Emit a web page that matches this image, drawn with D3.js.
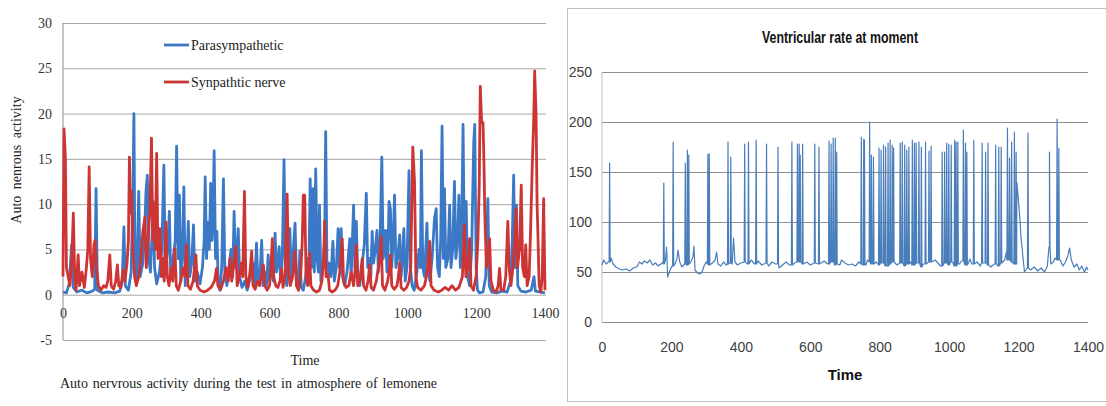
<!DOCTYPE html>
<html>
<head>
<meta charset="utf-8">
<script src="https://cdn.jsdelivr.net/npm/d3@7"></script>
<style>
  body { margin: 0; background: #fff; }
  svg { display: block; }
</style>
</head>
<body>
<div id="chart"></div>
<script>
// ticks
var timeTicks = [0, 200, 400, 600, 800, 1000, 1200, 1400];
var nervTicks = [-5, 0, 5, 10, 15, 20, 25, 30];
var rateTicks = [0, 50, 100, 150, 200, 250];

// left chart, [time, value]
var parasympathetic = [
  [0,0.3],[10,0.2],[18,1.2],[25,5.5],[30,0.8],[40,0.3],[55,0.5],[70,0.2],[85,0.4],[92,0.6],[96,11.7],[100,0.5],
  [115,0.2],[130,0.3],[150,0.2],[165,0.4],[172,1.5],[177,7.5],[181,1.0],[190,0.5],[198,2.5],[203,11.0],[206,20.0],
  [209,3.0],[214,1.5],[220,11.4],[224,2.0],[232,3.5],[238,8.0],[241,11.4],[245,13.2],[249,4.0],[254,2.5],[258,6.0],
  [262,10.3],[266,3.0],[272,1.2],[280,2.5],[287,5.0],[293,14.3],[297,3.0],[303,4.5],[309,9.2],[313,2.0],[320,4.0],
  [326,6.0],[330,16.4],[334,4.0],[338,11.0],[342,1.5],[347,5.0],[351,11.9],[355,1.0],[360,4.0],[364,8.1],[368,2.0],
  [374,3.5],[379,7.7],[383,1.5],[390,2.5],[398,1.2],[405,3.0],[410,6.0],[413,13.0],[417,4.0],[421,8.0],[425,5.0],
  [429,12.3],[433,6.0],[436,9.0],[439,15.9],[443,4.0],[447,7.0],[451,1.0],[456,0.5],[461,3.0],[466,12.8],[470,2.5],
  [476,1.0],[482,3.0],[488,5.0],[493,2.0],[497,9.2],[501,3.0],[505,4.5],[509,7.3],[513,2.0],[520,0.8],[528,1.5],
  [535,0.5],[545,2.0],[552,3.5],[557,1.0],[562,5.7],[566,1.5],[572,2.0],[577,6.0],[581,1.0],[587,2.5],[591,1.0],
  [596,4.4],[600,1.5],[606,3.0],[611,1.5],[616,6.8],[620,2.5],[624,3.5],[628,5.3],[632,1.5],[637,4.0],[642,14.9],
  [646,3.0],[650,1.0],[655,3.5],[659,7.3],[663,1.5],[668,4.5],[674,7.9],[678,2.0],[684,1.0],[688,4.8],[692,0.8],
  [698,0.5],[705,2.0],[710,4.0],[714,2.0],[718,12.8],[722,3.0],[726,11.7],[730,2.5],[734,13.9],[738,4.0],[742,2.5],
  [745,9.9],[749,1.5],[755,3.0],[760,6.0],[763,18.0],[767,2.0],[772,3.5],[778,2.0],[784,5.9],[788,1.5],[794,3.0],
  [799,7.3],[803,3.0],[808,7.3],[812,2.0],[818,1.0],[825,2.5],[833,6.2],[837,2.0],[844,9.9],[848,3.0],[852,8.1],
  [856,2.0],[862,1.0],[868,3.0],[875,5.5],[881,11.2],[885,3.0],[890,4.0],[894,2.0],[898,7.0],[902,3.5],[907,5.0],
  [912,7.1],[916,2.5],[920,4.0],[926,15.2],[930,4.0],[934,5.0],[937,7.1],[941,2.5],[944,5.0],[947,10.3],[951,9.5],
  [955,3.0],[959,6.0],[963,11.0],[967,3.0],[972,4.0],[978,6.6],[982,2.0],[986,4.0],[990,7.3],[994,1.5],[999,3.0],
  [1005,13.7],[1009,3.0],[1014,1.0],[1020,0.5],[1028,2.5],[1034,5.0],[1038,3.0],[1041,15.9],[1045,3.0],[1050,2.0],
  [1057,7.9],[1061,2.5],[1066,1.5],[1072,4.0],[1079,8.4],[1084,9.5],[1088,3.0],[1093,2.0],[1097,6.0],[1101,18.6],
  [1105,4.0],[1108,11.7],[1112,3.0],[1118,4.0],[1123,9.9],[1127,3.0],[1132,5.0],[1137,12.5],[1141,4.0],[1146,6.0],
  [1150,11.0],[1154,3.0],[1158,7.0],[1162,18.8],[1166,4.0],[1171,10.3],[1175,2.0],[1181,1.0],[1187,5.0],[1193,16.8],
  [1196,18.8],[1200,3.0],[1204,0.5],[1210,0.2],[1220,0.3],[1228,2.0],[1234,10.6],[1238,1.0],[1245,0.3],[1260,0.2],
  [1275,0.4],[1290,0.3],[1300,1.5],[1305,6.0],[1309,13.2],[1313,3.0],[1317,9.9],[1321,1.0],[1330,0.4],[1345,0.3],
  [1360,0.5],[1368,2.0],[1372,0.4],[1385,0.3],[1400,0.2]
];
var synpathtic = [
  [0,2.0],[3,18.3],[7,15.0],[10,3.0],[15,2.0],[20,1.0],[25,3.5],[30,9.0],[34,2.0],[38,0.5],[44,4.4],[48,1.0],
  [55,2.5],[62,0.8],[68,3.0],[72,5.0],[76,14.1],[80,4.0],[85,2.0],[90,5.5],[93,6.0],[97,3.0],[103,1.0],[110,0.5],
  [118,1.0],[125,0.8],[130,1.5],[136,4.4],[140,1.0],[147,0.6],[153,1.5],[158,3.3],[162,1.0],[168,0.8],[175,2.7],
  [180,1.5],[186,3.5],[190,6.0],[193,15.2],[196,9.0],[199,11.4],[203,5.0],[208,2.0],[213,1.0],[220,2.0],[226,4.0],
  [232,7.0],[238,8.6],[242,3.0],[247,6.0],[252,9.0],[257,17.3],[261,6.0],[265,10.0],[268,5.0],[272,15.6],[276,4.0],
  [282,7.3],[286,2.0],[290,4.0],[294,1.5],[299,8.0],[303,2.0],[308,1.0],[314,3.0],[319,1.5],[325,5.1],[329,1.0],
  [335,0.5],[342,1.5],[348,3.0],[354,2.0],[359,5.5],[363,1.0],[370,0.6],[378,1.5],[386,4.4],[390,1.0],[398,0.5],
  [410,0.3],[420,0.5],[430,0.8],[440,1.5],[446,2.9],[450,1.0],[458,0.6],[466,1.5],[474,3.0],[480,1.5],[485,4.0],
  [490,1.5],[496,3.5],[502,5.3],[506,1.0],[512,2.0],[518,3.5],[522,2.0],[527,11.4],[531,2.0],[537,0.8],[543,2.5],
  [548,4.8],[552,1.0],[558,0.6],[565,1.5],[571,1.0],[576,2.0],[582,3.3],[586,1.0],[593,0.5],[600,1.0],[604,3.0],
  [608,6.2],[612,2.0],[618,1.0],[624,0.8],[630,1.5],[635,2.9],[639,0.8],[645,2.0],[651,11.1],[655,2.5],[660,1.0],
  [667,2.0],[674,4.8],[678,1.0],[684,0.5],[690,2.0],[695,6.0],[698,11.0],[702,11.0],[706,2.0],[711,1.0],[716,4.6],
  [720,1.0],[728,0.5],[736,0.3],[745,0.5],[752,1.5],[757,4.0],[760,8.1],[764,2.0],[770,2.2],[774,0.5],[782,0.3],
  [790,0.5],[798,1.0],[804,2.5],[811,6.2],[815,1.5],[822,0.8],[830,1.0],[837,2.5],[844,1.0],[848,2.5],[852,5.5],
  [856,1.0],[862,1.5],[869,4.0],[873,1.0],[880,0.5],[886,1.5],[891,3.3],[895,0.8],[902,0.5],[910,1.5],[916,3.0],
  [920,4.0],[924,6.4],[928,1.0],[935,0.5],[943,1.5],[947,2.5],[951,4.4],[955,1.0],[962,0.6],[970,1.0],[974,2.0],
  [978,3.5],[982,0.8],[990,0.5],[998,0.8],[1005,1.5],[1010,3.0],[1016,16.3],[1019,14.0],[1021,12.5],[1025,2.0],
  [1030,0.8],[1040,0.5],[1050,1.0],[1058,2.5],[1065,5.9],[1069,1.0],[1078,0.5],[1090,0.3],[1100,0.5],[1110,0.8],
  [1120,0.5],[1130,1.0],[1140,0.5],[1150,0.8],[1160,2.0],[1166,7.7],[1170,2.0],[1176,3.0],[1181,6.2],[1185,1.0],
  [1192,0.5],[1200,2.0],[1205,6.0],[1209,12.0],[1212,23.0],[1216,19.0],[1220,19.0],[1223,14.0],[1225,9.2],[1230,3.0],
  [1235,4.0],[1239,6.2],[1243,1.5],[1250,0.5],[1258,0.3],[1264,1.0],[1268,2.9],[1272,0.5],[1280,0.5],[1286,2.0],
  [1292,8.1],[1296,3.0],[1301,1.0],[1307,3.0],[1312,6.0],[1316,9.5],[1320,3.0],[1326,5.0],[1331,12.1],[1335,3.0],
  [1340,2.0],[1344,5.5],[1348,1.0],[1354,2.0],[1358,7.0],[1363,14.3],[1367,19.0],[1370,24.7],[1374,20.0],[1377,10.0],
  [1379,7.3],[1383,1.0],[1388,0.3],[1392,2.0],[1396,10.6],[1400,0.5]
];

// right chart : base rate [time, bpm] and spikes [time, base, peak]
var rateBase = [
  [0,57],[5,62],[12,58],[18,60],[26,64],[32,58],[40,55],[50,53],[60,52],[70,53],[80,51],[90,54],[100,55],[108,60],
  [115,58],[122,61],[130,59],[138,62],[146,57],[154,59],[162,56],[170,58],[176,60],[183,62],[186,75],[189,45],
  [194,50],[200,55],[210,58],[216,63],[219,72],[224,60],[230,55],[238,58],[256,60],[262,65],[265,76],[268,52],
  [275,49],[282,48],[288,50],[294,56],[300,60],[318,59],[326,62],[330,70],[334,58],[342,56],[350,60],[358,57],
  [375,58],[379,84],[383,60],[390,57],[400,59],[430,62],[440,58],[450,61],[460,57],[480,56],[490,60],[500,58],
  [510,54],[520,57],[530,60],[540,57],[555,59],[590,60],[600,57],[640,61],[650,58],[685,57],[690,62],[700,59],
  [710,57],[720,58],[730,56],[740,60],[760,57],[765,62],[790,60],[820,56],[850,57],[890,60],[925,58],[930,58],
  [960,62],[970,58],[975,56],[1010,60],[1030,58],[1035,61],[1060,63],[1065,58],[1080,60],[1090,56],[1100,59],
  [1120,55],[1130,58],[1140,56],[1160,62],[1165,70],[1190,58],[1195,140],[1200,120],[1203,107],[1207,85],
  [1212,67],[1217,50],[1225,54],[1235,52],[1245,55],[1255,51],[1265,54],[1275,50],[1283,56],[1289,75],[1293,58],
  [1300,60],[1305,64],[1320,62],[1328,56],[1335,60],[1342,66],[1347,74],[1352,62],[1360,55],[1368,58],[1375,52],
  [1382,56],[1390,50],[1396,55],[1400,52]
];
var rateSpikes = [
  [22,60,159],[178,58,139],[205,56,180],[240,58,159],[246,57,172],[250,58,167],[305,58,168],[309,57,168],
  [363,58,180],[371,59,165],[411,60,178],[422,58,180],[444,58,182],[474,59,178],[507,58,175],[547,57,180],
  [563,60,178],[568,60,178],[571,60,167],[578,58,178],[613,59,178],[625,58,175],[654,58,181],[660,60,178],
  [666,60,184],[672,57,184],[676,58,170],[747,58,185],[754,57,183],[756,58,182],[771,60,200],[776,58,167],
  [782,58,165],[798,57,174],[804,59,172],[811,59,177],[817,56,175],[824,56,179],[830,58,182],[836,60,177],
  [840,60,174],[859,59,179],[865,59,180],[872,56,177],[878,58,172],[884,58,175],[894,57,182],[900,57,179],
  [905,59,179],[913,59,180],[920,55,175],[932,58,180],[942,60,171],[948,60,176],[980,56,170],[987,59,170],
  [993,59,179],[999,57,178],[1006,60,177],[1016,56,182],[1020,56,180],[1025,58,180],[1041,61,192],[1047,57,179],
  [1051,57,170],[1071,58,182],[1095,59,179],[1105,59,170],[1112,57,179],[1134,58,177],[1143,56,175],[1150,59,175],
  [1168,62,194],[1174,62,164],[1180,60,180],[1188,58,190],[1193,58,170],[1227,54,189],[1289,75,170],[1311,62,203],
  [1316,62,174]
];

var W = 1106, H = 406;
var serif = "'Liberation Serif', 'Times New Roman', serif";
var narrow = "'Liberation Sans Narrow', 'Arial Narrow', 'Liberation Sans', sans-serif";
var plain = d => String(d).replace("\u2212", "-");

var svg = d3.select("#chart").append("svg")
  .attr("width", W)
  .attr("height", H)
  .attr("viewBox", [0, 0, W, H]);
svg.append("rect").attr("width", W).attr("height", H).attr("fill", "#fff");

// ---------- left chart : auto nervous activity ----------
var x1 = d3.scaleLinear().domain([0, 1400]).range([63, 545]);
var y1 = d3.scaleLinear().domain([-5, 30]).range([340, 23]);

var left = svg.append("g");

// grid
left.append("g")
  .attr("transform", "translate(63,0)")
  .call(d3.axisLeft(y1).tickValues(nervTicks).tickSize(-(546 - 63)).tickFormat(""))
  .call(g => g.select(".domain").remove())
  .call(g => g.selectAll("line").attr("stroke", "#a6a6a6"));

left.append("line")
  .attr("x1", 63).attr("x2", 63)
  .attr("y1", y1(30)).attr("y2", y1(-5))
  .attr("stroke", "#8c8c8c");

// y labels
left.append("g")
  .attr("transform", "translate(63,0)")
  .call(d3.axisLeft(y1).tickValues(nervTicks).tickSize(0).tickPadding(11).tickFormat(plain))
  .call(g => g.select(".domain").remove())
  .selectAll("text")
    .attr("font-family", serif)
    .attr("font-size", 14)
    .attr("fill", "#333");

// x labels sit on the zero line
left.append("g")
  .attr("transform", "translate(0," + y1(0) + ")")
  .call(d3.axisBottom(x1).tickValues(timeTicks).tickSize(0).tickPadding(13).tickFormat(plain))
  .call(g => g.select(".domain").remove())
  .selectAll("text")
    .attr("font-family", serif)
    .attr("font-size", 14)
    .attr("fill", "#333");

var line1 = d3.line().x(d => x1(d[0])).y(d => y1(d[1]));

left.append("path")
  .datum(parasympathetic)
  .attr("d", line1)
  .attr("fill", "none")
  .attr("stroke", "#3b79c7")
  .attr("stroke-width", 2.8)
  .attr("stroke-linejoin", "round");

left.append("path")
  .datum(synpathtic)
  .attr("d", line1)
  .attr("fill", "none")
  .attr("stroke", "#cd3535")
  .attr("stroke-width", 2.8)
  .attr("stroke-linejoin", "round");

// legend
var legend = [
  {name: "Parasympathetic", color: "#3b79c7", y: 45},
  {name: "Synpathtic nerve", color: "#cd3535", y: 82}
];
var lg = left.selectAll(".lg").data(legend).enter().append("g").attr("class", "lg");
lg.append("line")
  .attr("x1", 164).attr("x2", 189)
  .attr("y1", d => d.y).attr("y2", d => d.y)
  .attr("stroke", d => d.color)
  .attr("stroke-width", 2.8);
lg.append("text")
  .attr("x", 191).attr("y", d => d.y + 4.5)
  .attr("font-family", serif)
  .attr("font-size", 14)
  .attr("fill", "#222")
  .text(d => d.name);

// titles
left.append("text")
  .attr("transform", "translate(21,160) rotate(-90)")
  .attr("text-anchor", "middle")
  .attr("font-family", serif)
  .attr("font-size", 14)
  .attr("word-spacing", 3)
  .attr("fill", "#222")
  .text("Auto nenrous activity");

left.append("text")
  .attr("x", 305).attr("y", 365)
  .attr("text-anchor", "middle")
  .attr("font-family", serif)
  .attr("font-size", 14)
  .attr("fill", "#222")
  .text("Time");

var cap = left.append("text")
  .attr("x", 60).attr("y", 388)
  .attr("font-family", serif)
  .attr("font-size", 14)
  .attr("fill", "#222")
  .text("Auto nervrous activity during the test in atmosphere of lemonene");
var capW = cap.node().getComputedTextLength();
cap.attr("word-spacing", Math.max(0, (377 - capW) / 9));

// ---------- right chart : ventricular rate ----------
var x2 = d3.scaleLinear().domain([0, 1400]).range([602, 1088]);
var y2 = d3.scaleLinear().domain([0, 250]).range([322, 72]);

var right = svg.append("g");

right.append("rect")
  .attr("x", 567.5).attr("y", 8.5)
  .attr("width", 560).attr("height", 393)
  .attr("fill", "#fff")
  .attr("stroke", "#bfbfbf");

right.append("g")
  .attr("transform", "translate(602,0)")
  .call(d3.axisLeft(y2).tickValues(rateTicks).tickSize(-(1088 - 602)).tickFormat(""))
  .call(g => g.select(".domain").remove())
  .call(g => g.selectAll("line").attr("stroke", "#8f8f8f"));

right.append("line")
  .attr("x1", 602).attr("x2", 602)
  .attr("y1", y2(250)).attr("y2", y2(0))
  .attr("stroke", "#bdbdbd");

right.append("g")
  .attr("transform", "translate(602,0)")
  .call(d3.axisLeft(y2).tickValues(rateTicks).tickSize(0).tickPadding(10).tickFormat(plain))
  .call(g => g.select(".domain").remove())
  .selectAll("text")
    .attr("font-family", narrow)
    .attr("font-size", 14)
    .attr("fill", "#404040");

right.append("g")
  .attr("transform", "translate(0," + y2(0) + ")")
  .call(d3.axisBottom(x2).tickValues(timeTicks).tickSize(0).tickPadding(20).tickFormat(plain))
  .call(g => g.select(".domain").remove())
  .selectAll("text")
    .attr("font-family", narrow)
    .attr("font-size", 14)
    .attr("fill", "#404040");

// build the rate line from base points and spikes
var ratePoints = rateBase.map(d => [d[0], d[1]]);
rateSpikes.forEach(function (s) {
  ratePoints.push([s[0] - 1.5, s[1]], [s[0], s[2]], [s[0] + 1.5, s[1]]);
});
ratePoints.sort((a, b) => a[0] - b[0]);

right.append("path")
  .datum(ratePoints)
  .attr("d", d3.line().x(d => x2(d[0])).y(d => y2(d[1])))
  .attr("fill", "none")
  .attr("stroke", "#4a7ebb")
  .attr("stroke-width", 1.2)
  .attr("stroke-linejoin", "round");

right.append("text")
  .attr("x", 840).attr("y", 43)
  .attr("text-anchor", "middle")
  .attr("font-family", narrow)
  .attr("font-weight", "bold")
  .attr("font-size", 16)
  .attr("fill", "#111")
  .attr("textLength", 156)
  .attr("lengthAdjust", "spacingAndGlyphs")
  .text("Ventricular rate at moment");

right.append("text")
  .attr("x", 845).attr("y", 380)
  .attr("text-anchor", "middle")
  .attr("font-family", narrow)
  .attr("font-weight", "bold")
  .attr("font-size", 15)
  .attr("fill", "#111")
  .text("Time");
</script>
</body>
</html>
